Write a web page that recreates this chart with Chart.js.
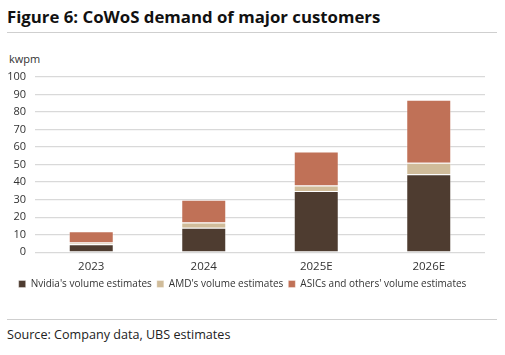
<!DOCTYPE html>
<html><head><meta charset="utf-8">
<script src="https://cdn.jsdelivr.net/npm/chart.js@4.4.1/dist/chart.umd.min.js"></script>
<style>
html,body{margin:0;padding:0;background:#fff;width:505px;height:355px;overflow:hidden;font-family:"Open Sans",sans-serif;}
#title{position:absolute;left:7px;top:5px;font-size:16.8px;font-weight:700;color:#111;white-space:nowrap;}
#line1{position:absolute;left:7px;top:32px;width:490px;height:1px;background:#cfcfcf;}
#unit{position:absolute;left:9px;top:51px;font-size:11px;color:#333;}
#line2{position:absolute;left:7px;top:319px;width:490px;height:1px;background:#cfcfcf;}
#source{position:absolute;left:7px;top:326px;font-size:12.6px;color:#222;white-space:nowrap;}
#wrap{position:absolute;left:0;top:0;width:505px;height:299px;}
</style></head>
<body>
<div id="title">Figure 6: CoWoS demand of major customers</div>
<div id="line1"></div>
<div id="unit">kwpm</div>
<div id="wrap"><canvas id="c"></canvas></div>
<div id="line2"></div>
<div id="source">Source: Company data, UBS estimates</div>
<script>
const categories = ["2023", "2024", "2025E", "2026E"];
const nvidia = [4.5, 14, 35, 44.5];
const amd = [1, 3, 3, 6.5];
const asics = [6.5, 13, 19.5, 36];
const yTicks = [0, 10, 20, 30, 40, 50, 60, 70, 80, 90, 100];

new Chart(document.getElementById('c'), {
  type: 'bar',
  data: {
    labels: categories,
    datasets: [
      {label: "Nvidia's volume estimates", data: nvidia, backgroundColor: '#4e3c30', borderColor: 'rgba(255,255,255,0.35)', borderWidth: 1},
      {label: "AMD's volume estimates", data: amd, backgroundColor: '#d0bc9a', borderColor: 'rgba(255,255,255,0.35)', borderWidth: 1},
      {label: "ASICs and others' volume estimates", data: asics, backgroundColor: '#c07157', borderColor: 'rgba(255,255,255,0.35)', borderWidth: 1}
    ]
  },
  options: {
    responsive: true,
    maintainAspectRatio: false,
    animation: false,
    layout: {padding: {left: 0, right: 20, top: 77, bottom: 0}},
    datasets: {bar: {categoryPercentage: 1, barPercentage: 0.4}},
    plugins: {
      legend: {
        position: 'bottom',
        labels: {boxWidth: 7, boxHeight: 7, padding: 5, color: '#333', font: {family: 'Open Sans', size: 10}}
      },
      tooltip: {enabled: false}
    },
    scales: {
      x: {
        stacked: true,
        grid: {display: false},
        border: {display: false},
        ticks: {color: '#333', font: {family: 'Open Sans', size: 11.5}, padding: 0}
      },
      y: {
        stacked: true,
        min: 0, max: 100,
        afterBuildTicks: s => { s.ticks = yTicks.map(v => ({value: v})); },
        afterFit: s => { s.width = 35; },
        grid: {color: '#d9d9d9', lineWidth: 1.3, drawTicks: false},
        border: {display: false},
        ticks: {color: '#333', font: {family: 'Open Sans', size: 11}, padding: 9, autoSkip: false}
      }
    }
  }
});
</script>
</body></html>
